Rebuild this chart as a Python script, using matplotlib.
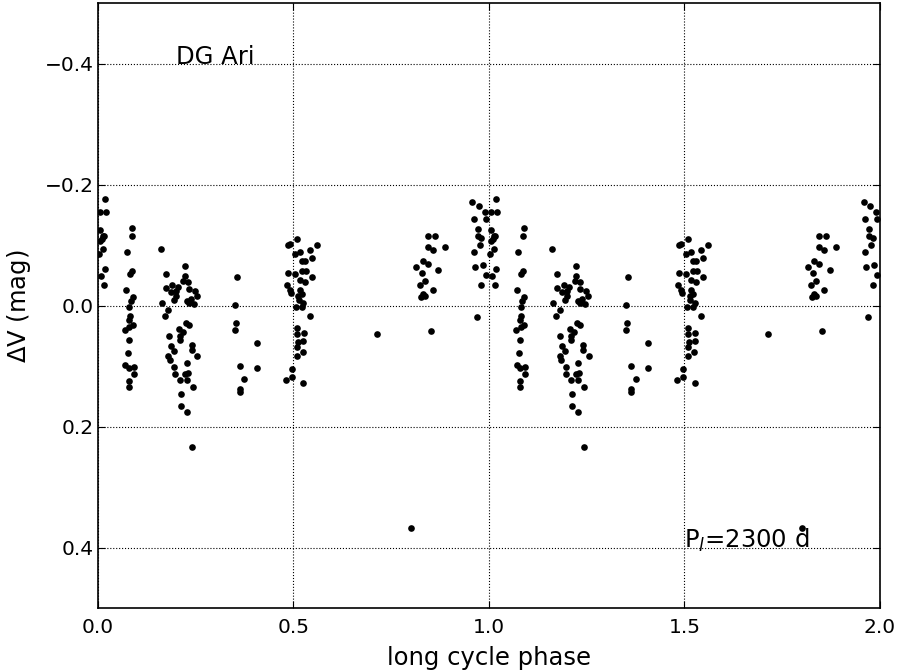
import matplotlib
matplotlib.use("Agg")
import matplotlib.pyplot as plt
import numpy as np

# long cycle phase (0..1) and delta V (mag)
phase = [
    # 0.00 - 0.02
    0.019, 0.021, 0.005, 0.006, 0.013, 0.017, 0.011, 0.005, 0.013, 0.003, 0.019, 0.009, 0.017,
    # 0.07 - 0.09
    0.089, 0.087, 0.075, 0.088, 0.083, 0.073, 0.090, 0.085, 0.081, 0.083, 0.079, 0.090, 0.081,
    0.070, 0.080, 0.077, 0.071, 0.079, 0.093, 0.093, 0.079, 0.079,
    # 0.16 - 0.26
    0.162, 0.222, 0.174, 0.222, 0.191, 0.174, 0.205, 0.219, 0.232, 0.234, 0.188, 0.201, 0.249,
    0.253, 0.200, 0.195, 0.229, 0.238, 0.245, 0.234, 0.164, 0.181, 0.172, 0.225, 0.234, 0.207,
    0.217, 0.211, 0.183, 0.211, 0.241, 0.187, 0.195, 0.241, 0.181, 0.255, 0.185, 0.228, 0.196,
    0.222, 0.230, 0.198, 0.211, 0.229, 0.243, 0.213, 0.213, 0.228, 0.242,
    # 0.35 - 0.41
    0.356, 0.351, 0.353, 0.351, 0.408, 0.364, 0.408, 0.375, 0.364, 0.364,
    # 0.48 - 0.56
    0.509, 0.561, 0.487, 0.492, 0.543, 0.517, 0.504, 0.547, 0.522, 0.530, 0.487, 0.504, 0.522,
    0.533, 0.547, 0.517, 0.530, 0.483, 0.492, 0.517, 0.493, 0.513, 0.522, 0.515, 0.526, 0.507,
    0.522, 0.543, 0.509, 0.510, 0.527, 0.511, 0.526, 0.510, 0.524, 0.510, 0.496, 0.496, 0.481,
    0.526,
    # isolated
    0.714, 0.801,
    # 0.82 - 0.89
    0.845, 0.862, 0.845, 0.858, 0.888, 0.832, 0.845, 0.815, 0.828, 0.871, 0.837, 0.824, 0.856,
    0.832, 0.826, 0.837, 0.851,
    # 0.96 - 1.00
    0.958, 0.975, 0.990, 0.962, 0.992, 0.973, 0.973, 0.981, 0.977, 0.962, 0.964, 0.984, 0.992,
    0.981, 0.969,
]
dV = [
    -0.176, -0.156, -0.156, -0.125, -0.116, -0.116, -0.111, -0.108, -0.094, -0.086, -0.061, -0.049, -0.035,
    -0.128, -0.115, -0.089, -0.057, -0.052, -0.027, -0.014, -0.008, 0.001, 0.016, 0.024, 0.032, 0.035,
    0.039, 0.056, 0.077, 0.098, 0.102, 0.101, 0.112, 0.124, 0.134,
    -0.094, -0.066, -0.053, -0.049, -0.035, -0.030, -0.032, -0.042, -0.039, -0.028, -0.023, -0.024, -0.024,
    -0.016, -0.016, -0.009, -0.008, -0.012, -0.004, -0.005, -0.005, 0.007, 0.017, 0.029, 0.031, 0.038,
    0.043, 0.050, 0.050, 0.057, 0.064, 0.067, 0.075, 0.073, 0.082, 0.083, 0.089, 0.094, 0.101,
    0.112, 0.111, 0.112, 0.123, 0.122, 0.134, 0.145, 0.165, 0.176, 0.233,
    -0.047, -0.001, 0.028, 0.040, 0.061, 0.099, 0.103, 0.120, 0.137, 0.142,
    -0.111, -0.101, -0.100, -0.103, -0.093, -0.089, -0.085, -0.080, -0.074, -0.074, -0.054, -0.052, -0.057,
    -0.057, -0.047, -0.043, -0.039, -0.035, -0.026, -0.026, -0.021, -0.017, -0.020, -0.009, -0.005, 0.002,
    0.002, 0.017, 0.036, 0.046, 0.045, 0.060, 0.058, 0.068, 0.076, 0.082, 0.104, 0.117, 0.122,
    0.127,
    0.047, 0.367,
    -0.115, -0.115, -0.098, -0.093, -0.098, -0.074, -0.070, -0.065, -0.054, -0.060, -0.041, -0.035, -0.026,
    -0.019, -0.015, -0.016, 0.042,
    -0.172, -0.165, -0.155, -0.143, -0.143, -0.127, -0.116, -0.113, -0.101, -0.089, -0.064, -0.067, -0.051,
    -0.035, 0.018,
]

phase = np.array(phase)
dV = np.array(dV)

fig = plt.figure(figsize=(9.01, 6.72), dpi=100, facecolor="white")
ax = fig.add_axes([0.1084, 0.0945, 0.8683, 0.9005])

# two cycles
ax.plot(np.concatenate([phase, phase + 1]), np.concatenate([dV, dV]),
        "o", color="black", ms=4.8, mec="black", mew=0)

ax.set_xlim(0, 2)
ax.set_ylim(0.5, -0.5)
ax.set_xticks([0.0, 0.5, 1.0, 1.5, 2.0])
ax.set_yticks([-0.4, -0.2, 0.0, 0.2, 0.4])
ax.grid(True, color="black", linestyle=":", linewidth=0.8)
ax.tick_params(direction="in", top=True, right=True, length=5, labelsize=14.5)
ax.tick_params(axis="x", pad=7)
ax.tick_params(axis="y", pad=3)
for s in ax.spines.values():
    s.set_linewidth(1.2)

ax.set_xlabel("long cycle phase", fontsize=17.5, labelpad=6)
ax.set_ylabel(r"$\Delta$V (mag)", fontsize=17.5, labelpad=8)

ax.text(0.2, -0.4, "DG Ari", fontsize=17.5)
ax.text(1.5, 0.4, r"P$_l$=2300 d", fontsize=17.5)

fig.savefig("out.png", dpi=100, facecolor="white")
